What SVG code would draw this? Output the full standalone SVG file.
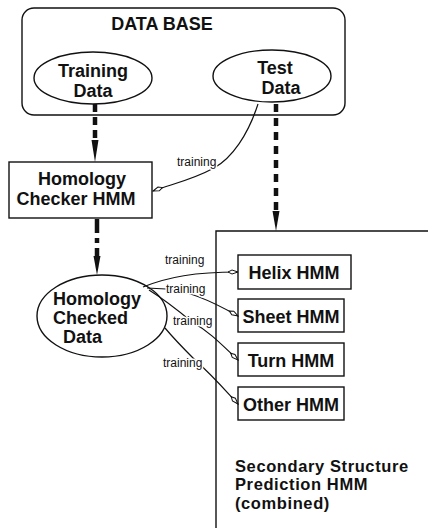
<svg xmlns="http://www.w3.org/2000/svg" width="428" height="528" viewBox="0 0 428 528">
<style>
.box{fill:none;stroke:#111;stroke-width:1.4}
.t{font-family:"Liberation Sans",Arial,sans-serif;font-weight:bold;font-size:18px;fill:#111}
.c{font-size:16.5px;letter-spacing:0.6px}
.s{font-family:"Liberation Sans",Arial,sans-serif;font-size:12px;fill:#111;stroke:#fff;stroke-width:3;paint-order:stroke;stroke-linejoin:round}
.dash{fill:none;stroke:#111;stroke-width:4.5}
.thin{fill:none;stroke:#111;stroke-width:1.2;marker-end:url(#open)}
</style>
<defs>
<marker id="open" viewBox="0 0 12 6" refX="11" refY="3" markerWidth="12" markerHeight="6" markerUnits="userSpaceOnUse" orient="auto">
<path d="M1,3 L5,1 L11,3 L5,5 Z" fill="#fff" stroke="#111" stroke-width="1"/>
</marker>
</defs>
<g id="database">
<rect class="box" x="22" y="8" width="323" height="107" rx="12"/>
<text class="t" x="162" y="30" text-anchor="middle">DATA BASE</text>
</g>
<g id="training-data">
<ellipse class="box" cx="93" cy="78" rx="59" ry="26"/>
<text class="t" x="93" y="77" text-anchor="middle">Training</text>
<text class="t" x="93" y="97" text-anchor="middle">Data</text>
</g>
<g id="test-data">
<ellipse class="box" cx="272" cy="76" rx="59" ry="26"/>
<text class="t" x="275" y="74" text-anchor="middle">Test</text>
<text class="t" x="281" y="94" text-anchor="middle">Data</text>
</g>
<g id="homology-checker">
<rect class="box" x="9" y="162" width="143" height="56"/>
<text class="t" x="82" y="185" text-anchor="middle">Homology</text>
<text class="t" x="76" y="205" text-anchor="middle">Checker HMM</text>
</g>
<g id="homology-checked">
<ellipse class="box" cx="102" cy="316" rx="65" ry="41"/>
<text class="t" x="53" y="305">Homology</text>
<text class="t" x="53" y="324">Checked</text>
<text class="t" x="63" y="343">Data</text>
</g>
<g id="secondary-structure">
<path class="box" d="M216,530 V231 H430"/>
<text class="t c" x="235" y="472">Secondary Structure</text>
<text class="t c" x="235" y="490">Prediction HMM</text>
<text class="t c" x="235" y="509">(combined)</text>
</g>
<g id="helix">
<rect class="box" x="238" y="255" width="113" height="34"/>
<text class="t" x="294" y="279" text-anchor="middle">Helix HMM</text>
</g>
<g id="sheet">
<rect class="box" x="238" y="299" width="106" height="33"/>
<text class="t" x="291" y="323" text-anchor="middle">Sheet HMM</text>
</g>
<g id="turn">
<rect class="box" x="238" y="343" width="106" height="33"/>
<text class="t" x="291" y="367" text-anchor="middle">Turn HMM</text>
</g>
<g id="other">
<rect class="box" x="238" y="387" width="106" height="33"/>
<text class="t" x="291" y="411" text-anchor="middle">Other HMM</text>
</g>
<g id="connectors">
<path class="dash" d="M95,104 V140" stroke-dasharray="8 5"/>
<path d="M91.5,140 L98.5,140 L95,162 Z" fill="#111"/>
<path class="dash" d="M276,104 V212" stroke-dasharray="8 6"/>
<path d="M272.5,211 L279.5,211 L276,231 Z" fill="#111"/>
<path class="dash" d="M97,219 V258" stroke-dasharray="14 5 5 5"/>
<path d="M93.5,256 L100.5,256 L97,275 Z" fill="#111"/>
<path class="thin" d="M258,104 C248,135 232,158 214,168 C192,180 172,184 153,191"/>
<text class="s" x="177" y="166">training</text>
<path class="thin" d="M143,287 C168,277 195,272 238,272"/>
<text class="s" x="165" y="264">training</text>
<path class="thin" d="M147,288 L166,289 C185,290 210,300 238,316"/>
<text class="s" x="166" y="293">training</text>
<path class="thin" d="M149,290 C165,300 180,312 192,322 C210,332 222,345 238,360"/>
<text class="s" x="173" y="325">training</text>
<path class="thin" d="M165,328 C175,340 185,350 195,360 C212,375 225,390 238,404"/>
<text class="s" x="163" y="367">training</text>
</g>
</svg>
